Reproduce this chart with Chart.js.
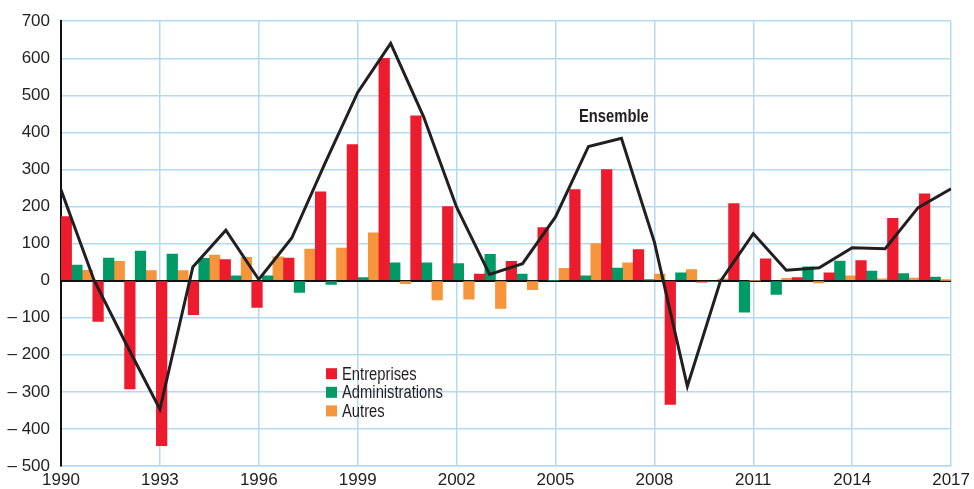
<!DOCTYPE html>
<html>
<head>
<meta charset="utf-8">
<script src="https://cdn.jsdelivr.net/npm/chart.js@4/dist/chart.umd.min.js"></script>
<style>
  html, body { margin: 0; padding: 0; background: #ffffff; }
  #wrap { width: 974px; height: 489px; position: relative; }
</style>
</head>
<body>
<div id="wrap"><canvas id="c" width="974" height="489"></canvas></div>
<script>
const years = [1990,1991,1992,1993,1994,1995,1996,1997,1998,1999,2000,2001,2002,2003,2004,2005,2006,2007,2008,2009,2010,2011,2012,2013,2014,2015,2016,2017];
const entreprises = [173,-110,-292,-445,-92,57,-72,61,240,367,600,445,200,18,52,143,246,300,84,-334,-4,208,59,8,21,54,168,234];
const administrations = [42,61,80,72,60,13,13,-32,-10,8,48,48,46,71,18,0,13,34,2,21,-3,-85,-37,37,53,26,19,10];
const autres = [28,52,27,27,69,63,64,85,88,129,-8,-52,-50,-75,-24,33,100,48,18,30,5,0,6,-6,13,5,7,1];
const ensemble = [245,2,-175,-347,37,136,3,115,315,508,640,442,198,17,46,172,362,384,104,-285,-2,127,28,35,89,86,197,248];
const seriesLabels = ['Entreprises','Administrations','Autres'];
const lineLabel = 'Ensemble';
const yTicks = [-500,-400,-300,-200,-100,0,100,200,300,400,500,600,700];
const xTickYears = [1990,1993,1996,1999,2002,2005,2008,2011,2014,2017];

const RED = '#ec1c2e', GREEN = '#009a66', ORANGE = '#f6953b', INK = '#231f20';
const GRID = '#b3daf3';
const FONT = "'Liberation Sans Narrow', 'Liberation Sans', Arial, sans-serif";
const NARROW = 0.82;

const legendPlugin = {
  id: 'customLegend',
  afterDraw(chart) {
    const ctx = chart.ctx;
    const a = chart.chartArea;
    const colors = [RED, GREEN, ORANGE];
    ctx.save();
    ctx.textBaseline = 'middle';
    ctx.textAlign = 'left';
    seriesLabels.forEach((lab, i) => {
      const bx = a.left + 265, by = a.top + 347 + i * 18.6;
      ctx.fillStyle = colors[i];
      ctx.fillRect(bx, by, 11, 11);
      ctx.save();
      ctx.fillStyle = INK;
      ctx.font = '18px ' + FONT;
      ctx.translate(bx + 16, by + 6.5);
      ctx.scale(NARROW, 1);
      ctx.fillText(lab, 0, 0);
      ctx.restore();
    });
    const xl = chart.scales.xl, y = chart.scales.y;
    ctx.save();
    ctx.fillStyle = INK;
    ctx.font = 'bold 18px ' + FONT;
    ctx.textAlign = 'center';
    ctx.textBaseline = 'alphabetic';
    ctx.translate(xl.getPixelForValue(2006.77), y.getPixelForValue(427));
    ctx.scale(NARROW, 1);
    ctx.fillText(lineLabel, 0, 0);
    ctx.restore();
    ctx.restore();
  }
};

Chart.defaults.font.family = FONT;
Chart.defaults.font.size = 17;
Chart.defaults.color = INK;

// each year's group of three bars fills the interval [year, year+1] of the bar axis
const slot = (arr, k) => arr.map((v, i) => ({ x: years[i] + (2 * k + 1) / 6, y: v }));
const barCommon = { type: 'bar', xAxisID: 'xb', yAxisID: 'y', order: 1, grouped: false,
  categoryPercentage: 1.0, barPercentage: 1.0, borderWidth: 0 };

new Chart(document.getElementById('c'), {
  type: 'bar',
  data: {
    datasets: [
      { type: 'line', label: lineLabel, data: years.map((yr, i) => ({ x: yr, y: ensemble[i] })),
        xAxisID: 'xl', yAxisID: 'y', borderColor: INK, borderWidth: 3, pointRadius: 0,
        tension: 0, borderJoinStyle: 'miter', fill: false, order: 0 },
      Object.assign({ label: seriesLabels[0], data: slot(entreprises, 0), backgroundColor: RED }, barCommon),
      Object.assign({ label: seriesLabels[1], data: slot(administrations, 1), backgroundColor: GREEN }, barCommon),
      Object.assign({ label: seriesLabels[2], data: slot(autres, 2), backgroundColor: ORANGE }, barCommon)
    ]
  },
  options: {
    responsive: false,
    animation: false,
    devicePixelRatio: 1,
    parsing: { xAxisKey: 'x', yAxisKey: 'y' },
    layout: { padding: { top: 18, right: 18, left: 0, bottom: 0 } },
    plugins: { legend: { display: false }, tooltip: { enabled: false }, title: { display: false } },
    scales: {
      xb: { type: 'linear', display: false, offset: false, grid: { offset: false },
            min: years[0], max: years[years.length - 1] + 1, ticks: { stepSize: 1 } },
      xl: {
        type: 'linear', position: 'bottom', min: 1990, max: 2017, offset: false,
        afterBuildTicks: s => { s.ticks = xTickYears.map(v => ({ value: v })); },
        afterFit: s => { s.height = 23; },
        ticks: { callback: v => String(v), padding: 4, maxRotation: 0, autoSkip: false, color: '#222' },
        grid: { color: GRID, lineWidth: 1.5, drawTicks: false, offset: false },
        border: { display: true, color: GRID, width: 1.5 }
      },
      y: {
        type: 'linear', min: -500, max: 700,
        afterBuildTicks: s => { s.ticks = yTicks.map(v => ({ value: v })); },
        afterFit: s => { s.width = 61; },
        ticks: { callback: v => v < 0 ? '\u2013 ' + Math.abs(v) : String(v), padding: 11, color: '#222' },
        grid: {
          drawTicks: false,
          color: c => (c.tick && c.tick.value === 0) ? '#111' : GRID,
          lineWidth: c => (c.tick && c.tick.value === 0) ? 2 : 1.5
        },
        border: { display: true, color: '#111', width: 2 }
      }
    }
  },
  plugins: [legendPlugin]
});
</script>
</body>
</html>
